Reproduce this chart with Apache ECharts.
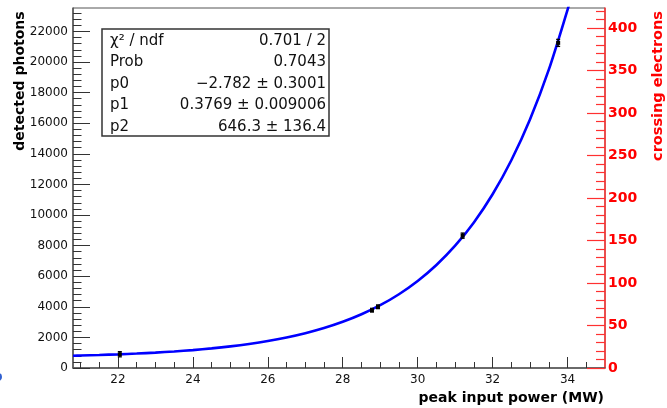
<!DOCTYPE html>
<html>
<head>
<meta charset="utf-8">
<script src="https://cdn.jsdelivr.net/npm/echarts@6/dist/echarts.min.js"></script>
<style>html,body{margin:0;padding:0;background:#fff;}#c{width:667px;height:408px;}</style>
</head>
<body>
<div id="c"></div>
<script>
// ---- data ----
const pointX = [22.05, 28.78, 28.94, 31.2, 33.75];
const pointY = [900, 3780, 4000, 8650, 21250];
const pointErr = [170, 120, 120, 170, 230];

// fitted curve (expo + constant), sampled values
const fitX = [20.8, 21, 21.5, 22, 22.5, 23, 23.5, 24, 24.5, 25, 25.5, 26, 26.5, 27, 27.5, 28, 28.5, 29, 29.5, 30, 30.5, 31, 31.5, 32, 32.5, 33, 33.5, 34, 34.1];
const fitY = [803, 816, 851, 893, 945, 1007, 1081, 1171, 1280, 1412, 1571, 1762, 1994, 2273, 2611, 3018, 3510, 4104, 4821, 5686, 6732, 7994, 9517, 11357, 13578, 16260, 19499, 23408, 24279];

// tick labels
const xTicks = [22, 24, 26, 28, 30, 32, 34];
const yLeftTicks = [0, 2000, 4000, 6000, 8000, 10000, 12000, 14000, 16000, 18000, 20000, 22000];
const yRightTicks = [0, 50, 100, 150, 200, 250, 300, 350, 400];

// stats box text
const statNames = ['χ² / ndf', 'Prob', 'p0', 'p1', 'p2'];
const statValues = ['0.701 / 2', '0.7043', '−2.782 ± 0.3001', '0.3769 ± 0.009006', '646.3 ± 136.4'];

const X_MIN = 20.8, X_MAX = 35;
const YL_MAX = 23530, YR_MAX = 423.5;

function range(a, b, s, skip) {
  const r = [];
  for (let v = a; v <= b + 1e-9; v += s) {
    const vv = Math.round(v * 1000) / 1000;
    if (skip && Math.abs(vv / skip - Math.round(vv / skip)) < 1e-6) continue;
    r.push(vv);
  }
  return r;
}
const xMinor = range(21, 34.5, 0.5, 2);
const yLeftMinor = range(400, 23200, 400, 2000);
const yRightMinor = range(10, 420, 10, 50);

const FONT = 'DejaVu Sans';
const GRAY = '#555';
const RED = '#ff0000';
const plain = v => String(v);

const chart = echarts.init(document.getElementById('c'), null, {renderer: 'canvas'});

const pts = pointX.map((x, i) => [x, pointY[i], pointErr[i]]);
const fit = fitX.map((x, i) => [x, fitY[i]]);

const statGraphics = [
  {type: 'rect', shape: {x: 102, y: 29, width: 227, height: 107}, style: {fill: '#fff', stroke: '#333', lineWidth: 1.5}, z: 100}
];
statNames.forEach((n, i) => {
  statGraphics.push({type: 'text', x: 110, y: 41 + i * 21.5, z: 101,
    style: {text: n, font: '15px "' + FONT + '"', fill: '#111', textVerticalAlign: 'middle', textAlign: 'left'}});
  statGraphics.push({type: 'text', x: 326, y: 41 + i * 21.5, z: 101,
    style: {text: statValues[i], font: '15px "' + FONT + '"', fill: '#111', textVerticalAlign: 'middle', textAlign: 'right'}});
});

const option = {
  animation: false,
  backgroundColor: '#fff',
  grid: {left: 73, right: 62, top: 8, bottom: 40, show: true, borderColor: GRAY, borderWidth: 1, backgroundColor: 'transparent'},
  xAxis: [
    {type: 'value', min: X_MIN, max: X_MAX, position: 'bottom',
      axisLine: {show: true, lineStyle: {color: GRAY, width: 1.5}},
      axisTick: {show: true, inside: true, length: 11, customValues: xTicks, lineStyle: {color: '#333'}},
      axisLabel: {show: true, customValues: xTicks, formatter: plain, margin: 6, fontFamily: FONT, fontSize: 12, color: '#111'},
      splitLine: {show: false}},
    {type: 'value', min: X_MIN, max: X_MAX, position: 'bottom',
      axisLine: {show: false},
      axisTick: {show: true, inside: true, length: 6, customValues: xMinor, lineStyle: {color: '#333'}},
      axisLabel: {show: false}, splitLine: {show: false}}
  ],
  yAxis: [
    {type: 'value', min: 0, max: YL_MAX, position: 'left',
      axisLine: {show: true, lineStyle: {color: GRAY, width: 1.5}},
      axisTick: {show: true, inside: true, length: 17, customValues: yLeftTicks, lineStyle: {color: '#333'}},
      axisLabel: {show: true, customValues: yLeftTicks, formatter: plain, margin: 5, fontFamily: FONT, fontSize: 12, color: '#111'},
      splitLine: {show: false}},
    {type: 'value', min: 0, max: YL_MAX, position: 'left',
      axisLine: {show: false},
      axisTick: {show: true, inside: true, length: 8.5, customValues: yLeftMinor, lineStyle: {color: '#333'}},
      axisLabel: {show: false}, splitLine: {show: false}},
    {type: 'value', min: 0, max: YR_MAX, position: 'right',
      axisLine: {show: true, lineStyle: {color: '#ff3030', width: 1.5}},
      axisTick: {show: true, inside: true, length: 18, customValues: yRightTicks, lineStyle: {color: '#ff3030', width: 1.2}},
      axisLabel: {show: true, customValues: yRightTicks, formatter: plain, margin: 3, fontFamily: FONT, fontSize: 14, fontWeight: 'bold', color: RED},
      splitLine: {show: false}},
    {type: 'value', min: 0, max: YR_MAX, position: 'right',
      axisLine: {show: false},
      axisTick: {show: true, inside: true, length: 9, customValues: yRightMinor, lineStyle: {color: '#ff3030', width: 1.2}},
      axisLabel: {show: false}, splitLine: {show: false}}
  ],
  graphic: [
    {type: 'text', x: 20, y: 81, rotation: Math.PI / 2, z: 50,
      style: {text: 'detected photons', font: 'bold 14px "' + FONT + '"', fill: '#000', textAlign: 'center', textVerticalAlign: 'middle'}},
    {type: 'text', x: 658, y: 86, rotation: Math.PI / 2, z: 50,
      style: {text: 'crossing electrons', font: 'bold 14.5px "' + FONT + '"', fill: RED, textAlign: 'center', textVerticalAlign: 'middle'}},
    {type: 'text', x: 604, y: 398, z: 50,
      style: {text: 'peak input power (MW)', font: 'bold 14px "' + FONT + '"', fill: '#000', textAlign: 'right', textVerticalAlign: 'middle'}},
    {type: 'circle', shape: {cx: -2, cy: 377, r: 4}, style: {fill: '#3060d0'}, z: 50}
  ].concat(statGraphics),
  series: [
    {type: 'line', name: 'fit', xAxisIndex: 0, yAxisIndex: 0, data: fit, smooth: 0.3, showSymbol: false, symbol: 'none',
      clip: true, lineStyle: {color: '#0000ff', width: 2.6}, z: 3},
    {type: 'custom', name: 'data', xAxisIndex: 0, yAxisIndex: 0, data: pts, z: 5,
      encode: {x: 0, y: 1},
      renderItem: function (params, api) {
        const x = api.value(0), y = api.value(1), e = api.value(2);
        const c = api.coord([x, y]);
        const t = api.coord([x, y + e]);
        const b = api.coord([x, y - e]);
        const st = {stroke: '#000', lineWidth: 1.3};
        return {type: 'group', children: [
          {type: 'line', shape: {x1: c[0], y1: t[1], x2: c[0], y2: b[1]}, style: st},
          {type: 'line', shape: {x1: c[0] - 2, y1: t[1], x2: c[0] + 2, y2: t[1]}, style: st},
          {type: 'line', shape: {x1: c[0] - 2, y1: b[1], x2: c[0] + 2, y2: b[1]}, style: st},
          {type: 'rect', shape: {x: c[0] - 2, y: c[1] - 2, width: 4, height: 4}, style: {fill: '#000'}}
        ]};
      }}
  ]
};
chart.setOption(option);
</script>
</body>
</html>
